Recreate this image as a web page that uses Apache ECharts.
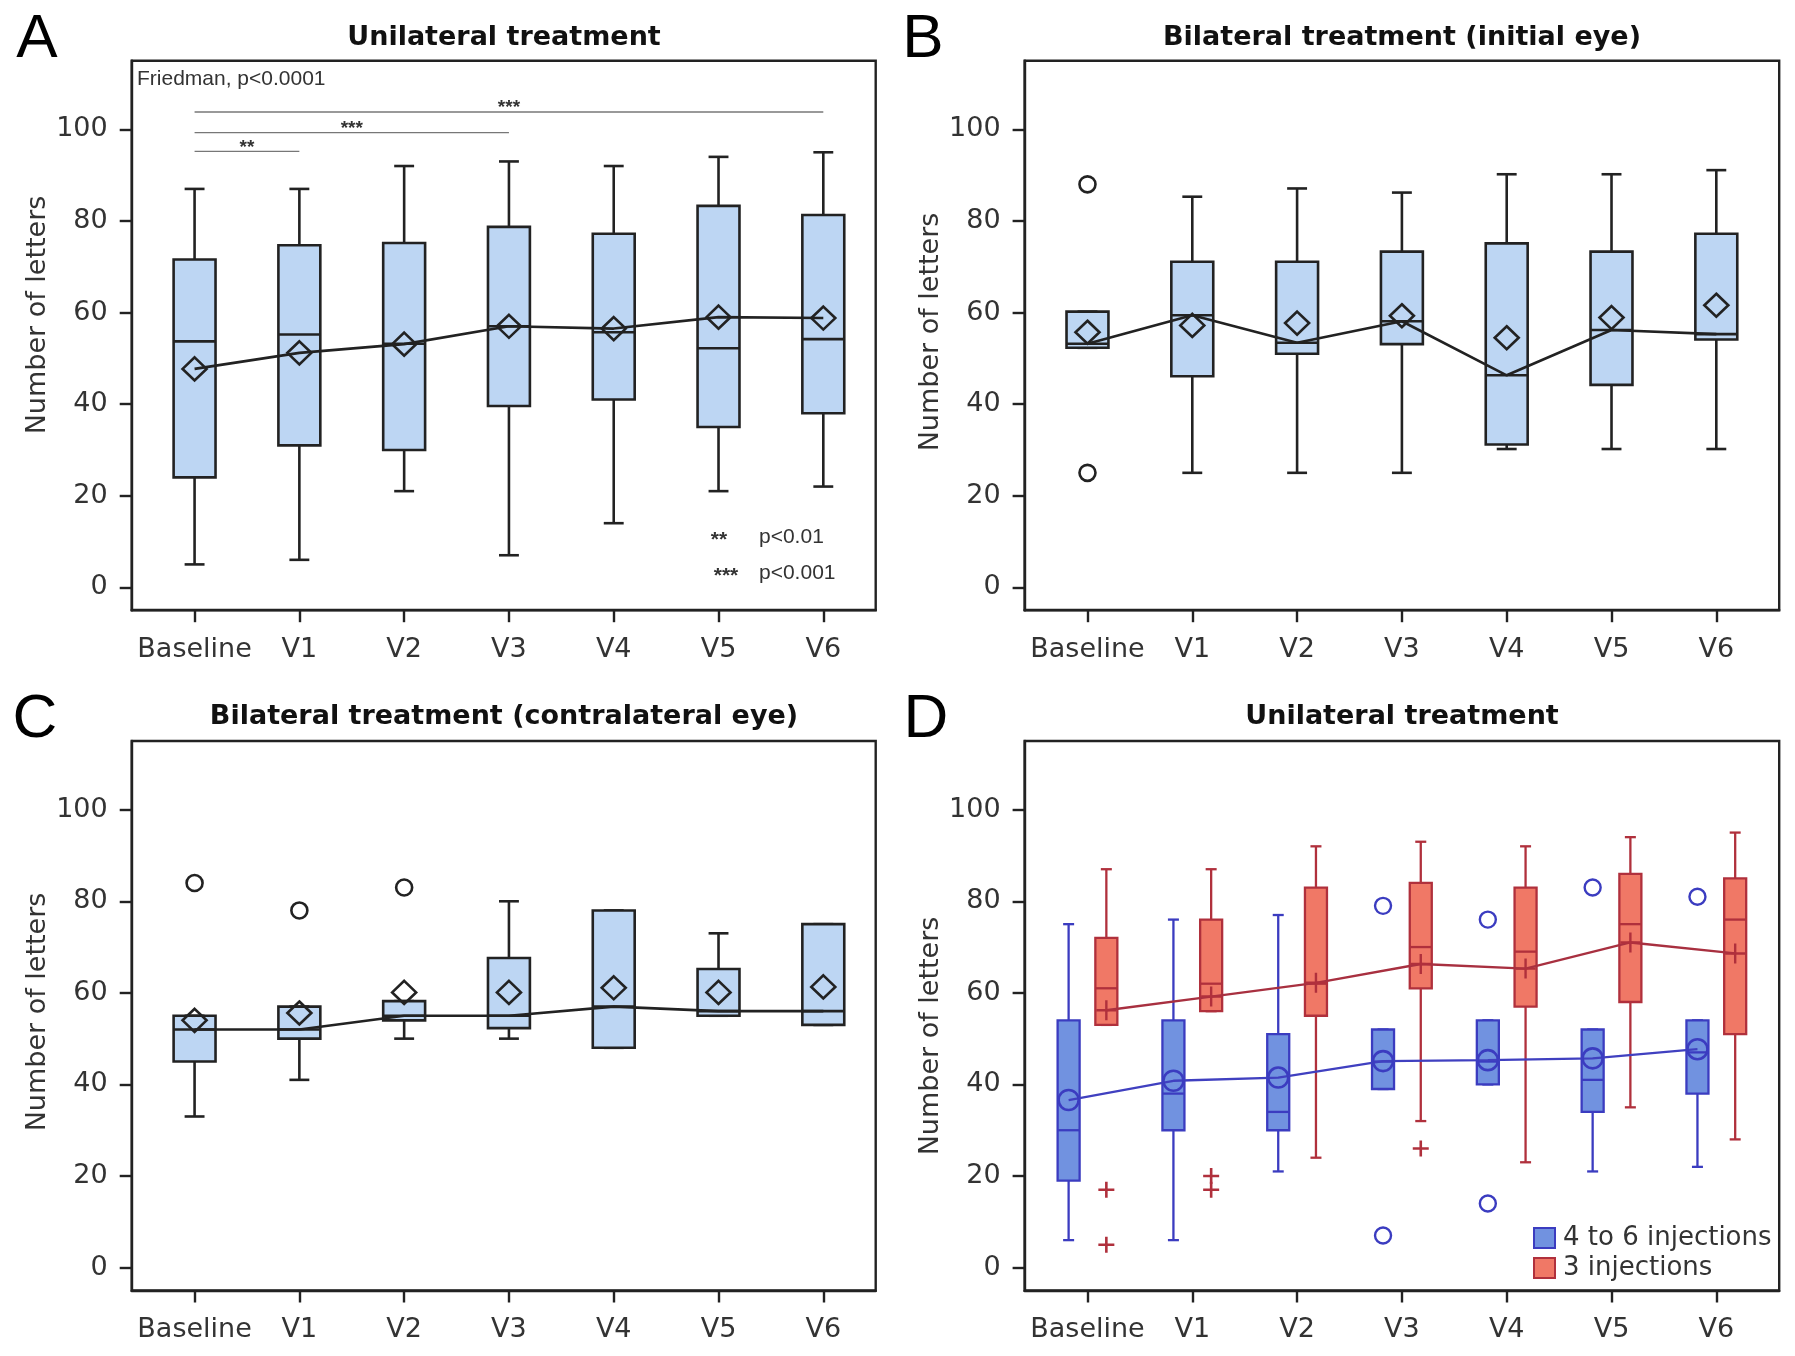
<!DOCTYPE html>
<html>
<head>
<meta charset="utf-8">
<script src="https://cdn.jsdelivr.net/npm/echarts@6/dist/echarts.min.js"></script>
<style>
html,body{margin:0;padding:0;background:#fff;}
#chart{width:1795px;height:1356px;}
</style>
</head>
<body>
<div id="chart"></div>
<script>
// ---------- DATA ----------
const categories = ['Baseline', 'V1', 'V2', 'V3', 'V4', 'V5', 'V6'];
const yTicks = [0, 20, 40, 60, 80, 100];

// Panel A: Unilateral treatment  [min, Q1, median, Q3, max]
const aBox = [
  [5, 24, 53.7, 71.6, 87],
  [6, 31, 55.2, 74.7, 87],
  [21, 30, 53.2, 75.2, 92],
  [7, 39.6, 57, 78.7, 93],
  [14, 41, 55.7, 77.2, 92],
  [21, 35, 52.2, 83.3, 94],
  [22, 38, 54.2, 81.3, 95]
];
const aMean = [47.7, 51.2, 53.1, 57.0, 56.5, 59.0, 58.8];
// significance bars: [from, to, y, label]
const aSigBars = [
  [0, 6, 103.8, '***'],
  [0, 3, 99.3, '***'],
  [0, 1, 95.2, '**']
];

// Panel B: Bilateral treatment (initial eye)
const bBox = [
  [52.3, 52.3, 53.2, 60.2, 60.2],
  [25, 46.1, 59.4, 71.1, 85.3],
  [25, 51.0, 53.4, 71.1, 87.1],
  [25, 53.1, 58.1, 73.3, 86.2],
  [30.2, 31.2, 46.3, 75.1, 90.2],
  [30.2, 44.2, 56.2, 73.3, 90.2],
  [30.2, 54.1, 55.3, 77.2, 91.1]
];
const bMean = [55.7, 57.2, 57.7, 59.3, 54.5, 58.9, 61.6];
const bOutliers = [[0, 88], [0, 25]];

// Panel C: Bilateral treatment (contralateral eye)
const cBox = [
  [33, 45, 52, 55, 55],
  [41, 50, 52, 57, 57],
  [50, 54, 55, 58.2, 58.2],
  [50, 52.3, 55, 67.6, 80],
  [48, 48, 57, 78, 78],
  [55, 55, 56, 65.2, 73],
  [53, 53, 56, 75, 75]
];
const cMean = [54.0, 55.6, 60.1, 60.1, 61.1, 60.1, 61.3];
const cOutliers = [[0, 84], [1, 78], [2, 83]];

// Panel D: Unilateral treatment by number of injections
const dBlueName = '4 to 6 injections';
const dRedName = '3 injections';
const dBlueBox = [
  [6, 19, 30, 54, 75],
  [6, 30, 38, 54, 76],
  [21, 30, 34, 51, 77],
  [39, 39, 45, 52, 52],
  [40, 40, 45, 54, 54],
  [21, 34, 41, 52, 52],
  [22, 38, 47, 54, 54]
];
const dBlueMean = [36.6, 40.8, 41.5, 45.1, 45.3, 45.7, 47.7];
const dBlueOutliers = [[3, 79], [3, 7], [4, 76], [4, 14], [5, 83], [6, 81]];
const dRedBox = [
  [53, 53, 61, 72, 87],
  [56, 56, 62, 76, 87],
  [24, 55, 62, 83, 92],
  [32, 61, 70, 84, 93],
  [23, 57, 69, 83, 92],
  [35, 58, 75, 86, 94],
  [28, 51, 76, 85, 95]
];
const dRedMean = [56.2, 59.2, 62.2, 66.3, 65.3, 71.0, 68.6];
const dRedOutliers = [[0, 17], [0, 5], [1, 20], [1, 17], [3, 26]];

// ---------- STYLE ----------
const FONT = "'DejaVu Sans', sans-serif";
const INK = '#222';
const LIGHT = '#bdd6f3';
const BLUE_FILL = '#7192e0', BLUE_STROKE = '#3b3cc0', BLUE_LINE = '#4040c0';
const RED_FILL = '#f07866', RED_STROKE = '#b0303c', RED_LINE = '#a83040';
const PLUS = 'path://M10,0L10,20M0,10L20,10';
const LW = 2.6;

const gridPos = [
  {left: 131.7, top: 60.7, width: 744, height: 549.5, xmax: 6.5},
  {left: 1024.6, top: 60.7, width: 754.6, height: 549.5, xmax: 6.6},
  {left: 131.7, top: 741, width: 744, height: 549.5, xmax: 6.5},
  {left: 1024.6, top: 741, width: 754.6, height: 549.5, xmax: 6.6}
];

const grids = gridPos.map(g => ({
  left: g.left, top: g.top, width: g.width, height: g.height,
  show: true, borderColor: INK, borderWidth: 2.4, backgroundColor: 'transparent'
}));

const xAxes = gridPos.map((g, i) => ({
  type: 'value', gridIndex: i, min: -0.6, max: g.xmax,
  axisLine: {show: true, onZero: false, lineStyle: {color: INK, width: 2.4}},
  axisTick: {show: true, length: 12, lineStyle: {color: INK, width: 2.4}, customValues: [0,1,2,3,4,5,6]},
  axisLabel: {show: true, margin: 26, fontFamily: FONT, fontSize: 27, color: '#333',
    customValues: [0,1,2,3,4,5,6], formatter: v => categories[Math.round(v)]},
  splitLine: {show: false}
}));

const yAxes = gridPos.map((g, i) => ({
  type: 'value', gridIndex: i, min: -5, max: 115,
  axisLine: {show: true, onZero: false, lineStyle: {color: INK, width: 2.4}},
  axisTick: {show: true, length: 12, lineStyle: {color: INK, width: 2.4}, customValues: yTicks},
  axisLabel: {show: true, margin: 24, fontFamily: FONT, fontSize: 27, color: '#333', customValues: yTicks},
  splitLine: {show: false}
}));

function boxSeries(boxes, gi, cfg, name) {
  return {
    type: 'custom', name: name, xAxisIndex: gi, yAxisIndex: gi, z: 2,
    itemStyle: {color: cfg.fill, borderColor: cfg.stroke, borderWidth: 2},
    encode: {x: 0, y: [1, 2, 3, 4, 5]},
    renderItem: function (params, api) {
      const x = api.value(0) + cfg.offset;
      const lo = api.coord([x, api.value(1)]);
      const q1 = api.coord([x, api.value(2)]);
      const md = api.coord([x, api.value(3)]);
      const q3 = api.coord([x, api.value(4)]);
      const hi = api.coord([x, api.value(5)]);
      const unit = api.size([1, 0])[0];
      const bw = unit * cfg.boxW, cw = unit * cfg.capW, cx = q1[0];
      const ls = {stroke: cfg.stroke, lineWidth: cfg.lw};
      return {type: 'group', children: [
        {type: 'line', shape: {x1: cx, y1: q1[1], x2: cx, y2: lo[1]}, style: ls},
        {type: 'line', shape: {x1: cx, y1: q3[1], x2: cx, y2: hi[1]}, style: ls},
        {type: 'line', shape: {x1: cx - cw / 2, y1: lo[1], x2: cx + cw / 2, y2: lo[1]}, style: ls},
        {type: 'line', shape: {x1: cx - cw / 2, y1: hi[1], x2: cx + cw / 2, y2: hi[1]}, style: ls},
        {type: 'rect', shape: {x: cx - bw / 2, y: q3[1], width: bw, height: q1[1] - q3[1]},
          style: {fill: cfg.fill, stroke: cfg.stroke, lineWidth: cfg.lw}},
        {type: 'line', shape: {x1: cx - bw / 2, y1: md[1], x2: cx + bw / 2, y2: md[1]}, style: ls}
      ]};
    },
    data: boxes.map((b, i) => [i].concat(b))
  };
}

function lineSeries(values, gi, color, width, offset) {
  return {
    type: 'line', xAxisIndex: gi, yAxisIndex: gi, z: 3, showSymbol: false, symbol: 'none',
    lineStyle: {color: color, width: width}, silent: true,
    data: values.map((v, i) => [i + (offset || 0), v])
  };
}

function markerSeries(points, gi, symbol, size, color, bw, offset) {
  return {
    type: 'scatter', xAxisIndex: gi, yAxisIndex: gi, z: 4, symbol: symbol, symbolSize: size, silent: true,
    itemStyle: {color: 'rgba(0,0,0,0)', borderColor: color, borderWidth: bw, opacity: 1},
    data: points.map(p => [p[0] + (offset || 0), p[1]])
  };
}

const neutralCfg = {offset: 0, boxW: 0.4, capW: 0.19, fill: LIGHT, stroke: INK, lw: LW};
const blueCfg = {offset: -0.18, boxW: 0.21, capW: 0.105, fill: BLUE_FILL, stroke: BLUE_STROKE, lw: 2.3};
const redCfg = {offset: 0.18, boxW: 0.21, capW: 0.105, fill: RED_FILL, stroke: RED_STROKE, lw: 2.3};

const idx = arr => arr.map((v, i) => [i, v]);

const sigSeries = {
  type: 'custom', xAxisIndex: 0, yAxisIndex: 0, z: 5, silent: true,
  renderItem: function (params, api) {
    const p1 = api.coord([api.value(0), api.value(2)]);
    const p2 = api.coord([api.value(1), api.value(2)]);
    const label = aSigBars[params.dataIndex][3];
    return {type: 'group', children: [
      {type: 'line', shape: {x1: p1[0], y1: p1[1], x2: p2[0], y2: p2[1]}, style: {stroke: '#777', lineWidth: 1.4}},
      {type: 'text', x: (p1[0] + p2[0]) / 2, y: p1[1] - 4,
        style: {text: label, fill: '#333', font: "bold 19px 'Liberation Sans', Arial, sans-serif", align: 'center', verticalAlign: 'middle'}}
    ]};
  },
  data: aSigBars.map(b => [b[0], b[1], b[2]])
};

const series = [
  // A
  boxSeries(aBox, 0, neutralCfg, 'A'),
  lineSeries(aMean, 0, INK, LW),
  markerSeries(idx(aMean), 0, 'diamond', [24, 23], INK, LW),
  sigSeries,
  // B
  boxSeries(bBox, 1, neutralCfg, 'B'),
  lineSeries(bBox.map(b => b[2]), 1, INK, LW),
  markerSeries(idx(bMean), 1, 'diamond', [24, 23], INK, LW),
  markerSeries(bOutliers, 1, 'circle', 16, INK, LW),
  // C
  boxSeries(cBox, 2, neutralCfg, 'C'),
  lineSeries(cBox.map(b => b[2]), 2, INK, LW),
  markerSeries(idx(cMean), 2, 'diamond', [24, 23], INK, LW),
  markerSeries(cOutliers, 2, 'circle', 16, INK, LW),
  // D
  boxSeries(dBlueBox, 3, blueCfg, dBlueName),
  boxSeries(dRedBox, 3, redCfg, dRedName),
  lineSeries(dBlueMean, 3, BLUE_LINE, 2.3, -0.18),
  lineSeries(dRedMean, 3, RED_LINE, 2.3, 0.18),
  markerSeries(idx(dBlueMean), 3, 'circle', 20, BLUE_STROKE, 2.6, -0.18),
  markerSeries(dBlueOutliers, 3, 'circle', 16, BLUE_STROKE, 2.4, -0.18),
  markerSeries(idx(dRedMean), 3, PLUS, 20, RED_STROKE, 2.4, 0.18),
  markerSeries(dRedOutliers, 3, PLUS, 16, RED_STROKE, 2.6, 0.18)
];

function txt(x, y, text, font, opts) {
  return Object.assign({type: 'text', x: x, y: y, silent: true,
    style: Object.assign({text: text, font: font, fill: '#111', align: 'center', verticalAlign: 'middle'}, opts || {})});
}
const TITLE_FONT = "bold 27px 'DejaVu Sans', sans-serif";
const LETTER_FONT = "62px 'Liberation Sans', Arial, sans-serif";
const NAME_FONT = "27px 'DejaVu Sans', sans-serif";
const SMALL_FONT = "21px 'Liberation Sans Narrow', 'Liberation Sans', Arial, sans-serif";

function axisName(x, y) {
  return {type: 'text', x: x, y: y, rotation: Math.PI / 2, silent: true,
    style: {text: 'Number of letters', font: NAME_FONT, fill: '#333', align: 'center', verticalAlign: 'middle'}};
}

const graphic = [
  txt(37, 40, 'A', LETTER_FONT, {fill: '#000'}),
  txt(923, 40, 'B', LETTER_FONT, {fill: '#000'}),
  txt(35, 720, 'C', LETTER_FONT, {fill: '#000'}),
  txt(926, 720, 'D', LETTER_FONT, {fill: '#000'}),
  txt(504, 38, 'Unilateral treatment', TITLE_FONT),
  txt(1402, 38, 'Bilateral treatment (initial eye)', TITLE_FONT),
  txt(504, 717, 'Bilateral treatment (contralateral eye)', TITLE_FONT),
  txt(1402, 717, 'Unilateral treatment', TITLE_FONT),
  axisName(38, 315),
  axisName(931, 332),
  axisName(38, 1012),
  axisName(931, 1036),
  txt(137, 79, 'Friedman, p<0.0001', SMALL_FONT, {align: 'left', fill: '#333'}),
  txt(719, 540, '**', "bold 21px 'Liberation Sans', Arial, sans-serif", {fill: '#333'}),
  txt(759, 537, 'p<0.01', SMALL_FONT, {align: 'left', fill: '#333'}),
  txt(726, 576, '***', "bold 21px 'Liberation Sans', Arial, sans-serif", {fill: '#333'}),
  txt(759, 573, 'p<0.001', SMALL_FONT, {align: 'left', fill: '#333'})
];

const chart = echarts.init(document.getElementById('chart'), null, {renderer: 'canvas'});
chart.setOption({
  animation: false,
  backgroundColor: '#fff',
  grid: grids,
  xAxis: xAxes,
  yAxis: yAxes,
  legend: {
    orient: 'vertical', left: 1528, top: 1220, itemWidth: 21, itemHeight: 20, itemGap: 4,
    textStyle: {fontFamily: FONT, fontSize: 26, color: '#333', lineHeight: 26, padding: [0, 0, 0, 3]},
    data: [
      {name: dBlueName, icon: 'rect', itemStyle: {color: BLUE_FILL, borderColor: BLUE_STROKE, borderWidth: 2}},
      {name: dRedName, icon: 'rect', itemStyle: {color: RED_FILL, borderColor: RED_STROKE, borderWidth: 2}}
    ]
  },
  series: series,
  graphic: graphic
});
</script>
</body>
</html>
